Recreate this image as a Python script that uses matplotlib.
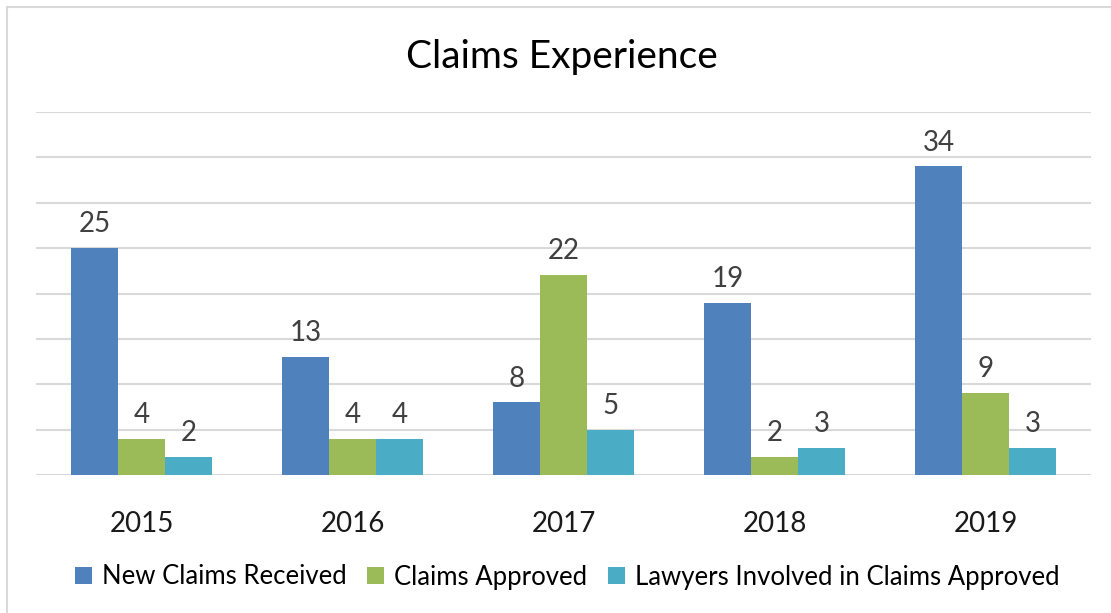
import numpy as np
import matplotlib
matplotlib.use('Agg')
import matplotlib.pyplot as plt
from matplotlib.patches import Rectangle

years = ['2015', '2016', '2017', '2018', '2019']
series_names = ['New Claims Received', 'Claims Approved',
                'Lawyers Involved in Claims Approved']
new_claims = [25, 13, 8, 19, 34]
approved = [4, 4, 22, 2, 9]
lawyers = [2, 4, 5, 3, 3]
colors = ['#4F81BD', '#9BBB59', '#4BACC6']

plt.rcParams['font.family'] = ['Lato', 'DejaVu Sans']

size = 1111, 613
dpi = 100.0
fig = plt.figure(figsize=(size[0]/dpi, size[1]/dpi), dpi=dpi)
fig.patch.set_facecolor('white')

# chart frame (only left/top visible in the reference)
fig.patches.append(Rectangle((6.5/size[0], -0.5), 2.0, (size[1]-7)/size[1] + 0.5,
                             transform=fig.transFigure, fill=False,
                             edgecolor='#D9D9D9', linewidth=1.5, zorder=0))

ax = fig.add_axes([36/size[0], (size[1]-475)/size[1],
                   (1091-36)/size[0], (475-112)/size[1]])

x = np.arange(len(years))
w = 0.223
data = [new_claims, approved, lawyers]
for i, (vals, c, name) in enumerate(zip(data, colors, series_names)):
    bars = ax.bar(x + (i-1)*w, vals, w, color=c, label=name, zorder=3)
    for b, v in zip(bars, vals):
        ax.text(b.get_x() + b.get_width()/2, v + 1.2, str(v), ha='center',
                va='bottom', fontsize=20, color='#404040')

ax.set_xlim(-0.5, 4.5)
ax.set_ylim(0, 40)
ax.set_yticks(np.arange(0, 41, 5))
ax.yaxis.grid(True, color='#D9D9D9', linewidth=1.5, zorder=0)
ax.tick_params(axis='y', length=0, labelleft=False)
ax.tick_params(axis='x', length=0, pad=26, labelsize=20, labelcolor='#1a1a1a')
ax.set_xticks(x)
ax.set_xticklabels(years)
for s in ax.spines.values():
    s.set_visible(False)

fig.text(0.5055, (size[1]-57)/size[1], 'Claims Experience', ha='center', va='center',
         fontsize=28, color='#000000')

fig.legend(loc='center', bbox_to_anchor=(0.5105, (size[1]-577)/size[1]), ncol=3,
           frameon=False, fontsize=18.5, handlelength=0.65, handleheight=0.65,
           handletextpad=0.4, columnspacing=0.8)

fig.savefig('out.png', dpi=dpi)
